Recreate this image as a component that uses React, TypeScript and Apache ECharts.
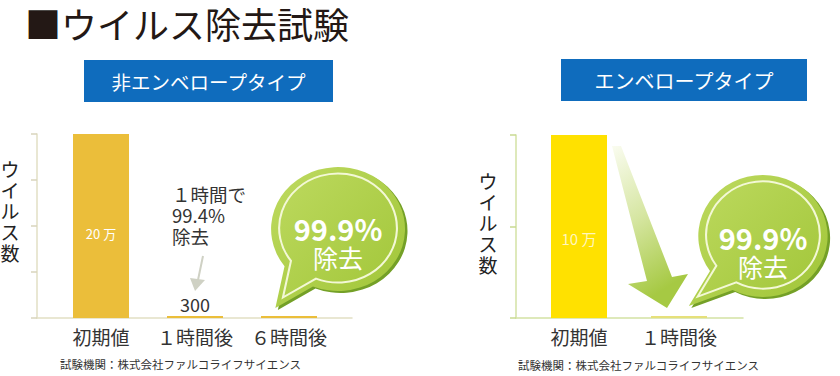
import React, { useEffect, useRef } from "react";
import * as echarts from "echarts";

const FONT = '"Noto Sans CJK JP", "Noto Sans", sans-serif';

// ---- data ----
const titleText = "■ウイルス除去試験";
const leftTypeLabel = "非エンベロープタイプ";
const rightTypeLabel = "エンベロープタイプ";
const leftCategories = ["初期値", "１時間後", "６時間後"];
const leftValues = [200000, 300, 200];
const rightCategories = ["初期値", "１時間後"];
const rightValues = [100000, 100];
const leftYMax = 200000;
const rightYMax = 100000;
const yInterval = 50000;
const yAxisName = "ウ\nイ\nル\nス\n数";
const noteText = "１時間で\n99.4%\n除去";
const bubblePercent = "99.9%";
const bubbleWord = "除去";
const sourceText = "試験機関：株式会社ファルコライフサイエンス";

// bubble outlines (local coordinates, centre at 0,0)
const bubbleLeftPath =
  "M -58 79 L -23.2 57.5 A 62 62 0 1 0 -49.5 37.3 Z";
const bubbleRightPath =
  "M -70 70 L -28.6 53.9 A 61 61 0 1 0 -50 35 Z";

let registered = false;
function registerShapes() {
  if (registered) return;
  registered = true;
  echarts.graphic.registerShape(
    "bubbleL",
    echarts.graphic.extendPath(bubbleLeftPath, {}) as any
  );
  echarts.graphic.registerShape(
    "bubbleR",
    echarts.graphic.extendPath(bubbleRightPath, {}) as any
  );
}

function bubble(shape: string, cx: number, cy: number, sx: number, textDy: number) {
  const fill = {
    type: "linear",
    x: 0,
    y: 0,
    x2: 1,
    y2: 1,
    colorStops: [
      { offset: 0, color: "#BEDA60" },
      { offset: 1, color: "#A0C537" },
    ],
  };
  return [
    { type: shape, x: cx + 2.5, y: cy + 2, scaleX: sx, scaleY: 1, style: { fill: "#74A027" }, z: 10 },
    { type: shape, x: cx, y: cy, scaleX: sx, scaleY: 1, style: { fill }, z: 11 },
    {
      type: shape,
      x: cx,
      y: cy - 1,
      scaleX: sx * 0.88,
      scaleY: 0.88,
      style: { fill: "none", stroke: "#F3F8D6", lineWidth: 2.2 },
      z: 12,
    },
    {
      type: "text",
      x: cx,
      y: cy + 13 + textDy,
      z: 13,
      style: {
        text: `{a|${bubblePercent}}\n{b|${bubbleWord}}`,
        fill: "#ffffff",
        fontFamily: FONT,
        align: "center",
        verticalAlign: "middle",
        rich: {
          a: { fontSize: 29, fontWeight: "bold", fill: "#ffffff", lineHeight: 29, fontFamily: FONT },
          b: { fontSize: 25, fill: "#ffffff", lineHeight: 29, fontFamily: FONT },
        },
      },
    },
  ];
}

export default function App() {
  const ref = useRef<HTMLDivElement>(null);

  useEffect(() => {
    document.body.style.margin = "0";
    registerShapes();
    const chart = echarts.init(ref.current!, null, { renderer: "svg" });

    const frameAxis = (color: string) => ({
      axisLine: { show: true, lineStyle: { color, width: 1.5 } },
    });

    const yNameText = (x: number, y: number) => ({
      type: "text",
      x,
      y,
      style: {
        text: yAxisName,
        fill: "#222",
        fontSize: 19,
        lineHeight: 21,
        fontFamily: FONT,
        align: "center",
        verticalAlign: "middle",
      },
    });

    const option: any = {
      animation: false,
      backgroundColor: "#ffffff",
      textStyle: { fontFamily: FONT },
      grid: [
        { left: 37, top: 134, width: 315, height: 184 },
        { left: 54, top: 134, width: 282, height: 184 },
        { left: 516, top: 135, width: 227, height: 183 },
        { left: 529, top: 135, width: 200, height: 183 },
      ],
      xAxis: [
        {
          gridIndex: 0,
          type: "category",
          data: [""],
          ...frameAxis("#E2DFC4"),
          axisTick: { show: false },
          axisLabel: { show: false },
        },
        {
          gridIndex: 1,
          type: "category",
          data: leftCategories,
          axisLine: { show: false },
          axisTick: { show: false },
          axisLabel: { interval: 0, color: "#333", fontSize: 19, margin: 9, fontFamily: FONT },
        },
        {
          gridIndex: 2,
          type: "category",
          data: [""],
          ...frameAxis("#D3E2A4"),
          axisTick: { show: false },
          axisLabel: { show: false },
        },
        {
          gridIndex: 3,
          type: "category",
          data: rightCategories,
          axisLine: { show: false },
          axisTick: { show: false },
          axisLabel: { interval: 0, color: "#333", fontSize: 19, margin: 9, fontFamily: FONT },
        },
      ],
      yAxis: [
        {
          gridIndex: 0,
          type: "value",
          min: 0,
          max: leftYMax,
          interval: yInterval,
          ...frameAxis("#E2DFC4"),
          axisTick: { show: true, length: 6, lineStyle: { color: "#D8D5BC", width: 1.5 } },
          axisLabel: { show: false },
          splitLine: { show: false },
        },
        { gridIndex: 1, type: "value", min: 0, max: leftYMax, show: false, splitLine: { show: false } },
        {
          gridIndex: 2,
          type: "value",
          min: 0,
          max: rightYMax,
          interval: yInterval,
          ...frameAxis("#D3E2A4"),
          axisTick: { show: true, length: 6, lineStyle: { color: "#C8DA92", width: 1.5 } },
          axisLabel: { show: false },
          splitLine: { show: false },
        },
        { gridIndex: 3, type: "value", min: 0, max: rightYMax, show: false, splitLine: { show: false } },
      ],
      series: [
        {
          type: "bar",
          xAxisIndex: 1,
          yAxisIndex: 1,
          barWidth: 56,
          barMinHeight: 2,
          itemStyle: { color: "#EBBE3A" },
          data: leftValues.map((v, i) => ({
            value: v,
            label:
              i === 0
                ? {
                    show: true,
                    position: "inside",
                    offset: [0, 7],
                    formatter: `${v / 10000} 万`,
                    color: "#ffffff",
                    fontSize: 13,
                    fontFamily: FONT,
                  }
                : i === 1
                ? {
                    show: true,
                    position: "top",
                    distance: 3,
                    formatter: `${v}`,
                    color: "#333",
                    fontSize: 18,
                    fontFamily: FONT,
                  }
                : { show: false },
          })),
        },
        {
          type: "bar",
          xAxisIndex: 3,
          yAxisIndex: 3,
          barWidth: 56,
          barMinHeight: 2,
          data: rightValues.map((v, i) => ({
            value: v,
            itemStyle: { color: i === 0 ? "#FFE100" : "#E6E07A" },
            label:
              i === 0
                ? {
                    show: true,
                    position: "inside",
                    offset: [0, 12],
                    formatter: `${v / 10000} 万`,
                    color: "#FFF6BE",
                    fontSize: 15,
                    fontFamily: FONT,
                  }
                : { show: false },
          })),
        },
      ],
      graphic: [
        {
          type: "text",
          x: 25,
          y: 23,
          style: {
            text: titleText,
            fill: "#231815",
            fontSize: 36,
            fontFamily: FONT,
            align: "left",
            verticalAlign: "middle",
          },
        },
        yNameText(10, 210),
        yNameText(488, 222),
        { type: "rect", shape: { x: 84, y: 60, width: 249, height: 42 }, style: { fill: "#0F6CBD" } },
        {
          type: "text",
          x: 208.5,
          y: 81,
          style: {
            text: leftTypeLabel,
            fill: "#ffffff",
            fontSize: 19.5,
            fontFamily: FONT,
            align: "center",
            verticalAlign: "middle",
          },
        },
        { type: "rect", shape: { x: 561, y: 59, width: 246, height: 42 }, style: { fill: "#0F6CBD" } },
        {
          type: "text",
          x: 684,
          y: 80,
          style: {
            text: rightTypeLabel,
            fill: "#ffffff",
            fontSize: 20,
            fontFamily: FONT,
            align: "center",
            verticalAlign: "middle",
          },
        },
        {
          type: "text",
          x: 172,
          y: 215,
          style: {
            text: noteText,
            fill: "#333",
            fontSize: 18.5,
            lineHeight: 21,
            fontFamily: FONT,
            align: "left",
            verticalAlign: "middle",
          },
        },
        {
          type: "line",
          shape: { x1: 203, y1: 256, x2: 198, y2: 280 },
          style: { stroke: "#CFD1C4", lineWidth: 2 },
        },
        {
          type: "polygon",
          shape: { points: [[190, 278], [205, 280], [195, 291]] },
          style: { fill: "#CFD1C4" },
        },
        {
          type: "polygon",
          shape: {
            points: [
              [612, 146],
              [621, 146],
              [672, 277],
              [688, 274],
              [667, 308],
              [628, 284],
              [647, 281],
            ],
          },
          style: {
            fill: {
              type: "linear",
              x: 0,
              y: 0,
              x2: 0.3,
              y2: 1,
              colorStops: [
                { offset: 0, color: "#FAFCF0" },
                { offset: 0.5, color: "#D6E6A2" },
                { offset: 1, color: "#A6C943" },
              ],
            },
          },
        },
        ...bubble("bubbleL", 338, 229, 1.08, 0),
        ...bubble("bubbleR", 763, 236, 1.06, 2),
        {
          type: "text",
          x: 60,
          y: 364,
          style: {
            text: sourceText,
            fill: "#333",
            fontSize: 11.5,
            fontFamily: FONT,
            align: "left",
            verticalAlign: "middle",
          },
        },
        {
          type: "text",
          x: 518,
          y: 365,
          style: {
            text: sourceText,
            fill: "#333",
            fontSize: 11.5,
            fontFamily: FONT,
            align: "left",
            verticalAlign: "middle",
          },
        },
      ],
    };

    chart.setOption(option);
    return () => chart.dispose();
  }, []);

  return <div ref={ref} style={{ width: 840, height: 376 }} />;
}
